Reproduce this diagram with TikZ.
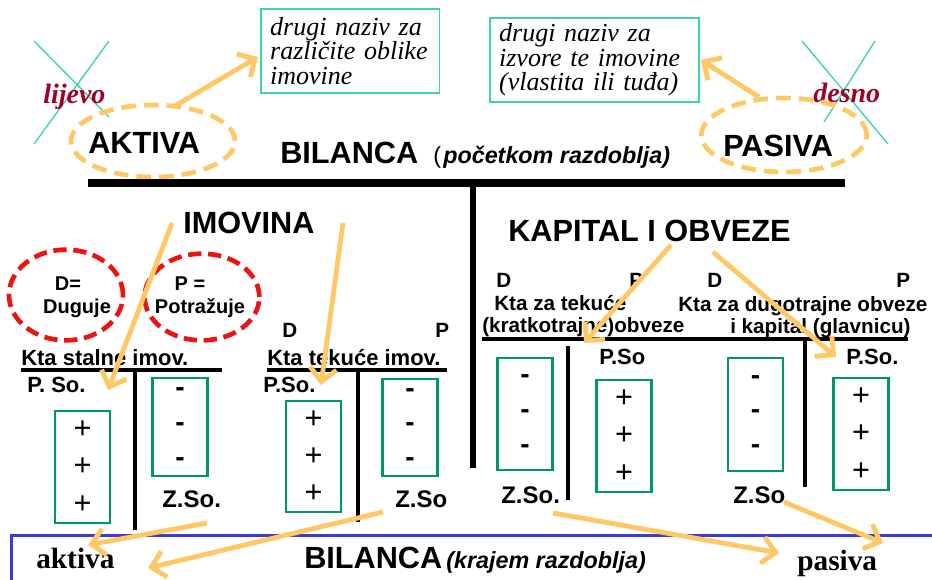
\documentclass[tikz,border=0pt]{standalone}
\usepackage{fontspec}
\setmainfont{Liberation Sans}
\newfontfamily\timesf{Liberation Serif}
\usetikzlibrary{shapes.geometric,arrows.meta}
\definecolor{orng}{RGB}{255,200,100}
\definecolor{teal1}{RGB}{60,210,170}
\definecolor{grn}{RGB}{0,150,110}
\definecolor{red1}{RGB}{235,20,20}
\definecolor{dkred}{RGB}{160,0,40}
\definecolor{blue1}{RGB}{60,60,210}
\begin{document}
\begin{tikzpicture}[x=0.75pt,y=-0.75pt,
 lbl/.style={anchor=base west, inner sep=0pt},
 big/.style={lbl, font=\fontsize{23}{27}\selectfont\bfseries},
 mid/.style={lbl, font=\fontsize{15.5}{18}\selectfont\bfseries},
 kta/.style={lbl, font=\fontsize{16.5}{19}\selectfont\bfseries},
 zso/.style={lbl, font=\fontsize{18}{21}\selectfont\bfseries},
 side/.style={lbl, font=\fontsize{21}{25}\selectfont\timesf\bfseries\itshape, text=dkred},
 endw/.style={lbl, font=\fontsize{22}{26}\selectfont\timesf\bfseries},
 dp/.style={anchor=base, inner sep=0pt, font=\fontsize{15}{18}\selectfont\bfseries},
 note/.style={draw=teal1, line width=1.2pt, anchor=north west, align=left, inner xsep=7pt, inner ysep=0pt, minimum height=63pt, font=\fontsize{19.5}{18.5}\selectfont\timesf\itshape},
 oell/.style={ellipse, draw=orng, line width=3.5pt, dash pattern=on 11pt off 6pt, inner sep=0pt},
 rell/.style={ellipse, draw=red1, line width=3.5pt, dash pattern=on 10pt off 5pt, inner sep=0pt},
 tbox/.style={draw=grn, line width=1.8pt, inner sep=0pt, align=center, minimum width=41.5pt},
 plusbox/.style={tbox, font=\fontsize{23}{28}\selectfont},
 minbox/.style={tbox, font=\fontsize{21}{26}\selectfont\bfseries},
 arr/.style={draw=orng, line width=3.6pt, -{Straight Barb[length=10pt,width=20pt]}},
 xline/.style={draw=teal1, line width=1pt},
 tline/.style={line width=2.5pt},
]
\useasboundingbox (0,0) rectangle (932,579);
\fill[white] (0,0) rectangle (932,579);

% green crosses
\draw[xline] (34,41) -- (109,117);
\draw[xline] (109,41) -- (34,144);
\draw[xline] (802,41) -- (888,144);
\draw[xline] (875,41) -- (824,122);

% side words
\node[side] (lijevo) at (43,103) {lijevo};
\node[side] (desno) at (813,102) {desno};

% notes
\node[note, text width=120pt] (noteL) at (260,8) {drugi naziv za\\različite oblike\\imovine};
\node[note, text width=143pt] (noteR) at (489,17) {drugi naziv za\\izvore te imovine\\(vlastita ili tuđa)};

% ellipses
\node[oell, minimum width=123pt, minimum height=54pt] (ellA) at (153,141) {};
\node[oell, minimum width=124pt, minimum height=55.5pt] (ellP) at (784,135) {};
\node[big] (aktiva) at (88,153) {AKTIVA};
\node[big] (pasiva) at (723,156) {PASIVA};

% title
\node[big] (bil1) at (280,163) {BILANCA};
\node[lbl, font=\fontsize{17.5}{20}\selectfont] (par1) at (433,163) {(};
\node[lbl, font=\fontsize{17.5}{20}\selectfont\bfseries\itshape] (poc) at (443,163) {početkom razdoblja)};

% main T
\draw[line width=6pt] (88,183) -- (845,183);
\draw[line width=4.5pt] (473,183) -- (473,468);

\node[big] (imov) at (183,233) {IMOVINA};
\node[big] (kap) at (508,241) {KAPITAL I OBVEZE};

% red ellipses
\node[rell, minimum width=85.5pt, minimum height=68pt] (ellD) at (66,295) {};
\node[rell, minimum width=86pt, minimum height=65pt] (ellPo) at (202,297) {};
\node[dp] (d1) at (68,290) {D=};
\node[dp] (d2) at (77,313) {Duguje};
\node[dp] (p1) at (190,290) {P =};
\node[dp] (p2) at (200,313) {Potražuje};

% left accounts
\node[mid] (D1) at (282,337) {D};
\node[mid] (P1) at (435,337) {P};
\node[kta] (kta1) at (21,365) {Kta stalne imov.};
\node[kta] (kta2) at (267,365) {Kta tekuće imov.};
\draw[tline] (21,370) -- (222,370);
\draw[tline] (267,370) -- (447,370);
\draw[line width=3pt] (135,372) -- (135,530);
\draw[line width=3pt] (358,372) -- (358,522);
\node[kta] (ps1) at (27,392) {P. So.};
\node[kta] (ps2) at (263,392) {P.So.};
\node[zso] (zs1) at (162,507) {Z.So.};
\node[zso] (zs2) at (395,507) {Z.So};

\node[plusbox, minimum height=84pt] (b1) at (82.5,467) {+\\+\\+};
\node[minbox, minimum height=73.5pt] (b2) at (180,427) {-\\-\\-};
\node[plusbox, minimum height=83pt] (b3) at (313.5,456.5) {+\\+\\+};
\node[minbox, minimum height=73pt] (b4) at (410,427.5) {-\\-\\-};

% right accounts
\node[mid] (D2) at (496,287) {D};
\node[mid] (P2) at (629,287) {P};
\node[mid] (D3) at (707,287) {D};
\node[mid] (P3) at (896,287) {P};
\node[mid] (kt3a) at (494,310) {Kta za tekuće};
\node[mid] (kt3b) at (482,332) {(kratkotrajne)obveze};
\node[mid] (kt4a) at (678,311) {Kta za dugotrajne obveze};
\node[mid] (kt4b) at (730,333) {i kapital (glavnicu)};
\draw[tline] (482,339) -- (908,339);
\draw[line width=3pt] (568,346) -- (568,500);
\draw[line width=3pt] (805,339) -- (805,487);
\node[kta] (ps3) at (599,364) {P.So};
\node[kta] (ps4) at (846,364) {P.So.};
\node[zso] (zs3) at (501,503) {Z.So.};
\node[zso] (zs4) at (733,503) {Z.So};

\node[minbox, minimum height=84pt] (b5) at (525,414) {-\\-\\-};
\node[plusbox, minimum height=84pt] (b6) at (624,436) {+\\+\\+};
\node[minbox, minimum height=85pt] (b7) at (755.5,414.5) {-\\-\\-};
\node[plusbox, minimum height=84pt] (b8) at (861,434) {+\\+\\+};

% bottom
\draw[blue1, line width=2.25pt] (11,535) rectangle (960,610);
\node[endw] (akt2) at (36,568) {aktiva};
\node[endw] (pas2) at (797,570) {pasiva};
\node[big] (bil2) at (304,568) {BILANCA};
\node[lbl, font=\fontsize{17.5}{20}\selectfont\bfseries\itshape] (kraj) at (446,568) {(krajem razdoblja)};

% arrow end points
\coordinate (a1s) at (173,107); \coordinate (a1e) at (258,57);
\coordinate (a2s) at (759,97);  \coordinate (a2e) at (701,60);
\coordinate (a3s) at (172,223); \coordinate (a3e) at (108,390);
\coordinate (a4s) at (343,223); \coordinate (a4e) at (321,385);
\coordinate (a5s) at (671,245); \coordinate (a5e) at (584,343);
\coordinate (a6s) at (713,252); \coordinate (a6e) at (836,357);
\coordinate (a7s) at (207,523); \coordinate (a7e) at (88,545);
\coordinate (a8s) at (383,512); \coordinate (a8e) at (148,568);
\coordinate (a9s) at (553,513); \coordinate (a9e) at (779,553);
\coordinate (a10s) at (784,502); \coordinate (a10e) at (883,543);

\foreach \i in {1,...,10} {\draw[arr] (a\i s) -- (a\i e);}
\end{tikzpicture}
\end{document}
